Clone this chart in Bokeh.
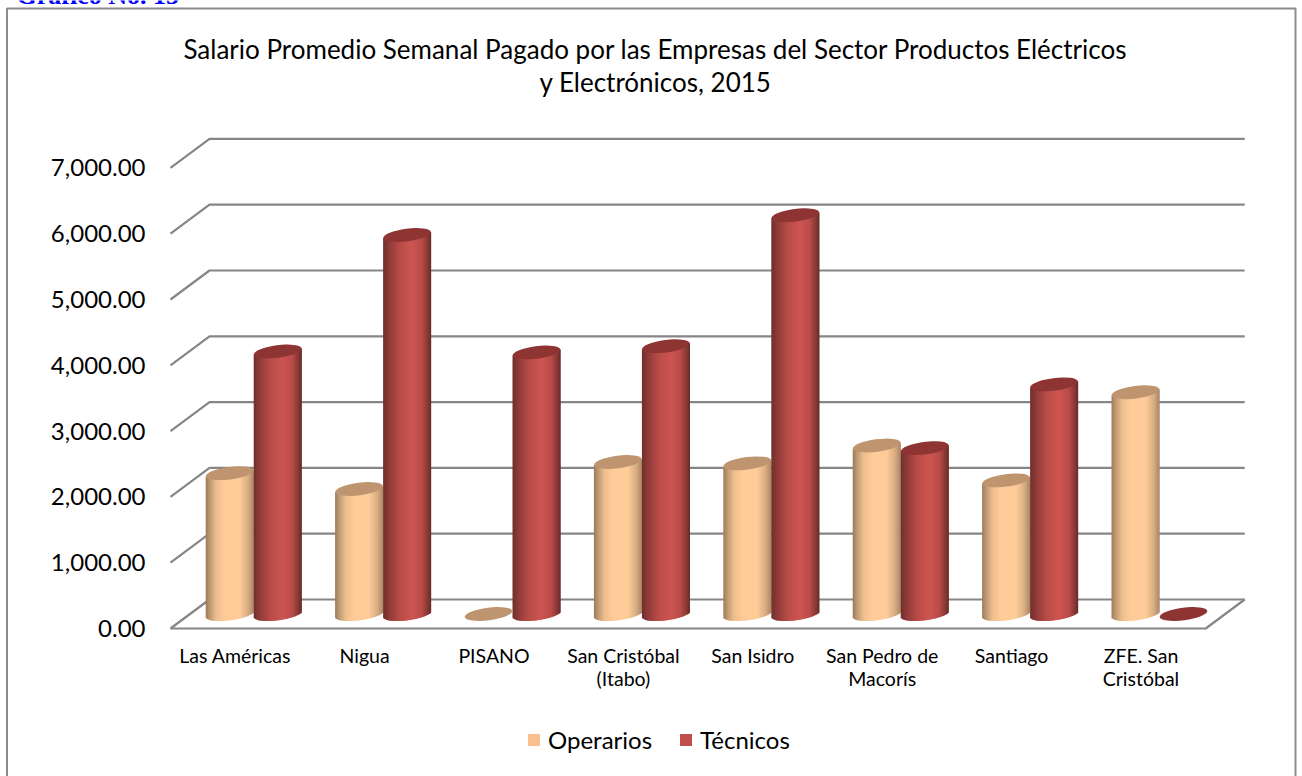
from bokeh.plotting import figure
from bokeh.models import (Range1d, LinearAxis, FixedTicker, Label, BoxAnnotation, Legend,
                          LegendItem, NumeralTickFormatter)
from bokeh.embed import file_html
from bokeh.resources import INLINE
import math

categories = ["Las Américas", "Nigua", "PISANO", "San Cristóbal\n(Itabo)", "San Isidro",
              "San Pedro de\nMacorís", "Santiago", "ZFE. San\nCristóbal"]
operarios = [2140, 1900, 0, 2310, 2290, 2560, 2030, 3370]
tecnicos = [3990, 5760, 3975, 4070, 6060, 2520, 3490, 0]
value_ticks = [0, 1000, 2000, 3000, 4000, 5000, 6000, 7000]
title_lines = ["Salario Promedio Semanal Pagado por las Empresas del Sector Productos Eléctricos",
               "y Electrónicos, 2015"]

W, H = 1302, 776
X0, CAT_W = 170.0, 129.4   # pixel of category origin, pixels per category
Y0, V_PX = 628.0, 0.0658   # pixel of value 0, pixels per unit
DX = 39.0 / CAT_W          # depth of the 3D box, in category units
DY = 29.0 / V_PX           # depth of the 3D box, in value units
BAR_W = 48.0 / CAT_W
NUDGE = 1.0 / CAT_W
ELL_H = 12.5 / V_PX
TILT = 0.13 * (1 / V_PX) * CAT_W  # value units per category unit

p = figure(width=W, height=H, output_backend="svg", toolbar_location=None,
           x_range=Range1d(-X0 / CAT_W, (W - X0) / CAT_W),
           y_range=Range1d((Y0 - H) / V_PX, Y0 / V_PX),
           min_border=0, x_axis_type=None, y_axis_type=None, outline_line_color=None,
           background_fill_color="white", border_fill_color="white")
p.grid.visible = False

# outer frame
p.add_layout(BoxAnnotation(left=6.5, right=1295, top=H - 8, bottom=-20,
                           left_units="screen", right_units="screen",
                           top_units="screen", bottom_units="screen",
                           fill_alpha=0, line_color="#8c8c8c", line_alpha=1, line_width=2))

# walls and floor
GRID = "#868686"
n = len(categories)
for v in value_ticks:
    p.line([0, DX, n + DX], [v, v + DY, v + DY], line_color=GRID, line_width=2.2)
p.line([0, n, n + DX], [0, 0, DY], line_color=GRID, line_width=2.2)


def mix(c, f):
    return "#%02x%02x%02x" % tuple(min(255, int(round(k * f))) for k in c)


def cylinders(values, shift, base, cap, stops):
    left, right, bottom, top, colors = [], [], [], [], []
    xs, ys = [], []
    N = 48
    for i, v in enumerate(values):
        xc = i + 0.5 + DX / 2 + shift - NUDGE
        yb = DY / 2
        xs.append(xc)
        ys.append(yb + v)
        if v <= 0:
            continue
        for k in range(N):
            t0, t1 = k / N, (k + 1) / N
            tm = (t0 + t1) / 2
            u = 2 * tm - 1
            f = stops[-1][1]
            for (a, fa), (b, fb) in zip(stops, stops[1:]):
                if a <= tm <= b:
                    f = fa + (fb - fa) * (tm - a) / (b - a)
                    break
            lx = xc - BAR_W / 2 + BAR_W * t0
            left.append(lx)
            right.append(min(lx + 2 * BAR_W / N, xc + BAR_W / 2))
            ytilt = u * (BAR_W / 2) * TILT
            bottom.append(yb + ytilt - ELL_H / 2 * math.sqrt(max(0, 1 - u * u)))
            top.append(yb + v + ytilt)
            colors.append(mix(base, f))
    p.quad(left=left, right=right, bottom=bottom, top=top, fill_color=colors, line_color=None)
    p.ellipse(x=xs, y=ys, width=BAR_W, height=ELL_H, angle=math.atan(0.13),
              fill_color=cap, line_color=None)


cylinders(operarios, -BAR_W / 2, (255, 204, 153), "#bf9570",
          [(0, .6), (.08, .74), (.22, .93), (.4, 1.0), (.7, 1.0), (.88, .85), (1, .66)])
cylinders(tecnicos, BAR_W / 2, (206, 85, 81), "#8e3533",
          [(0, .55), (.15, .72), (.35, .9), (.6, 1.0), (.8, .9), (.93, .66), (1, .5)])

# axes
ya = LinearAxis(fixed_location=0, ticker=FixedTicker(ticks=value_ticks),
                formatter=NumeralTickFormatter(format="0,0.00"),
                axis_line_color=None, major_tick_line_color=None, minor_tick_line_color=None,
                major_label_standoff=19, major_label_text_font="Lato",
                major_label_text_font_size="24px", major_label_text_color="#000000")
p.add_layout(ya, "left")
xa = LinearAxis(fixed_location=0, ticker=FixedTicker(ticks=[i + .5 for i in range(n)]),
                major_label_overrides={i + .5: c for i, c in enumerate(categories)},
                axis_line_color=None, major_tick_line_color=None, minor_tick_line_color=None,
                major_label_standoff=9, major_label_text_font="Lato",
                major_label_text_font_size="19.5px", major_label_text_color="#000000",
                major_label_text_line_height=1.0)
p.add_layout(xa, "below")

# title
for line, sy in zip(title_lines, (48, 81)):
    p.add_layout(Label(x=655, y=H - sy, x_units="screen", y_units="screen", text=line,
                       text_font="Lato", text_font_size="26px", text_align="center",
                       text_baseline="middle", text_color="#000000"))
p.add_layout(Label(x=16, y=H + 5, x_units="screen", y_units="screen", text="Gráfico No. 15",
                   text_font="Liberation Serif", text_font_size="26px", text_font_style="bold",
                   text_color="#0000ff", text_baseline="alphabetic"))

# legend
nan = float("nan")
r1 = p.quad(left=[nan], right=[nan], bottom=[nan], top=[nan], fill_color="#fac090", line_color=None)
r2 = p.quad(left=[nan], right=[nan], bottom=[nan], top=[nan], fill_color="#c0504d", line_color=None)
leg = Legend(items=[LegendItem(label="Operarios", renderers=[r1]),
                    LegendItem(label="Técnicos", renderers=[r2])],
             orientation="horizontal", location=(526, 22), glyph_width=15, glyph_height=15,
             label_text_font="Lato", label_text_font_size="24px", label_text_color="#000000",
             label_standoff=7, spacing=26,
             background_fill_alpha=0, border_line_color=None, margin=0, padding=6)
p.add_layout(leg, "center")

open("out.html", "w").write(file_html(p, INLINE))
